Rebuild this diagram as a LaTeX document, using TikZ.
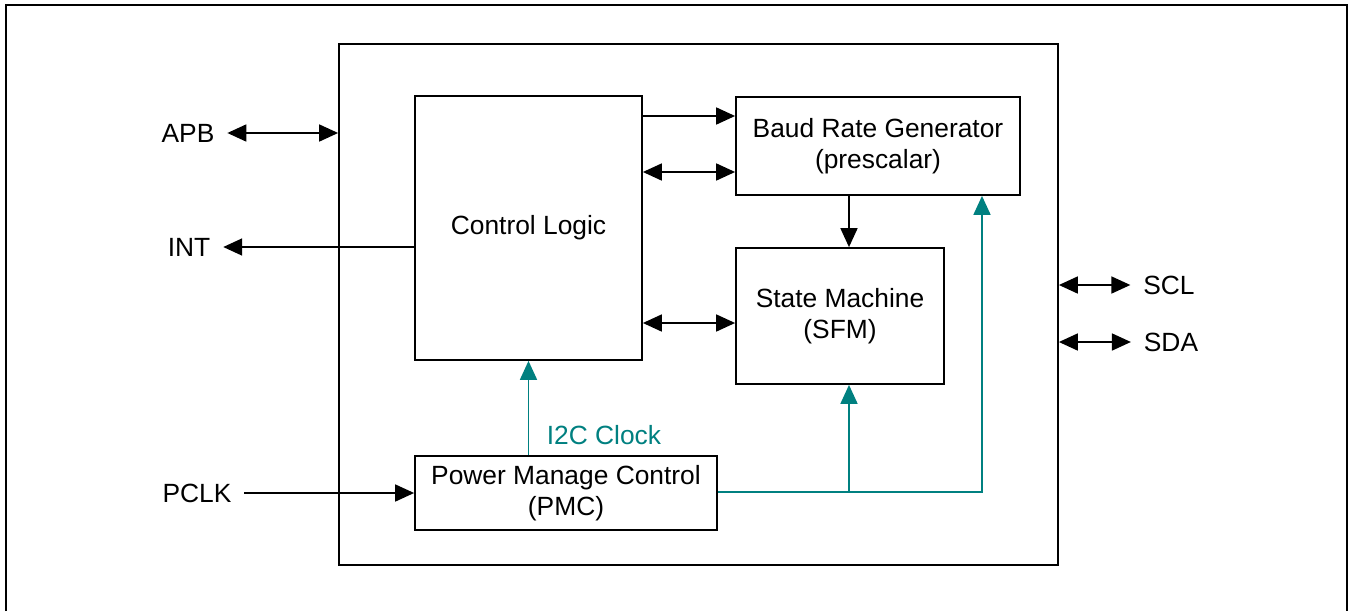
\documentclass[tikz,border=0pt]{standalone}
\usepackage{fontspec}
\setmainfont{Liberation Sans}
\usepackage{tikz}
\usetikzlibrary{
    arrows.meta,
    positioning
}
\definecolor{clockteal}{RGB}{0,128,128}

\begin{document}
\begin{tikzpicture}[
        x=0.2mm, y=-0.2mm,
        >={Triangle[length=3.8mm, width=3.4mm]},
        every node/.style={font=\fontsize{15pt}{18pt}\selectfont},
        block/.style={
            rectangle,
            draw,
            line width=1pt,
            align=center,
            inner sep=0pt
        },
        port/.style={inner sep=0pt, outer sep=2.6mm},
        wire/.style={line width=1pt},
        clocklink/.style={line width=1pt, clockteal}
    ]
        \useasboundingbox (0,0) rectangle (1355,611);
        \draw[line width=1.3pt] (6,611) -- (6,5) -- (1347,5) -- (1347,611);

        \node[block, minimum width=143.8mm, minimum height=104.2mm] (box) at (698.5,304.5) {};
        \node[block, minimum width=45.4mm, minimum height=52.8mm] (ctrl) at (528.5,228) {Control Logic};
        \node[block, minimum width=56.8mm, minimum height=19.6mm] (baud) at (878,146) {Baud Rate Generator\\(prescalar)};
        \node[block, minimum width=41.6mm, minimum height=27.2mm] (fsm) at (840,316) {State Machine\\(SFM)};
        \node[block, minimum width=60.4mm, minimum height=14.8mm] (pmc) at (566,493) {Power Manage Control\\(PMC)};

        \node[port] (apb) at (188,133) {APB};
        \node[port] (int) at (189,247) {INT};
        \node[port] (pclk) at (197,493) {PCLK};
        \node[port] (scl) at (1169,285) {SCL};
        \node[port] (sda) at (1171,342) {SDA};
        \node[text=clockteal] (clk) at (604,435) {I2C Clock};

        \coordinate (tap) at (849,492);
        \coordinate (turn) at (982,492);

        \draw[wire, <->] (apb) -- (apb -| box.west);
        \draw[wire, ->] (int -| ctrl.west) -- (int);
        \draw[wire, ->] (pclk) -- (pmc);
        \draw[wire, <->] (scl -| box.east) -- (scl);
        \draw[wire, <->] (sda -| box.east) -- (sda);
        \draw[wire, ->] (ctrl.east |- 0,116) -- (baud.west |- 0,116);
        \draw[wire, <->] (ctrl.east |- 0,172) -- (baud.west |- 0,172);
        \draw[wire, <->] (ctrl.east |- 0,323) -- (fsm.west |- 0,323);
        \draw[wire, ->] (tap |- baud.south) -- (tap |- fsm.north);

        % clock lines
        \draw[clocklink, ->] (ctrl.south |- pmc.north) -- (ctrl.south);
        \draw[clocklink, ->] (pmc.east |- tap) -- (turn) -- (turn |- baud.south);
        \draw[clocklink, ->] (tap) -- (tap |- fsm.south);
    \end{tikzpicture}
\end{document}
